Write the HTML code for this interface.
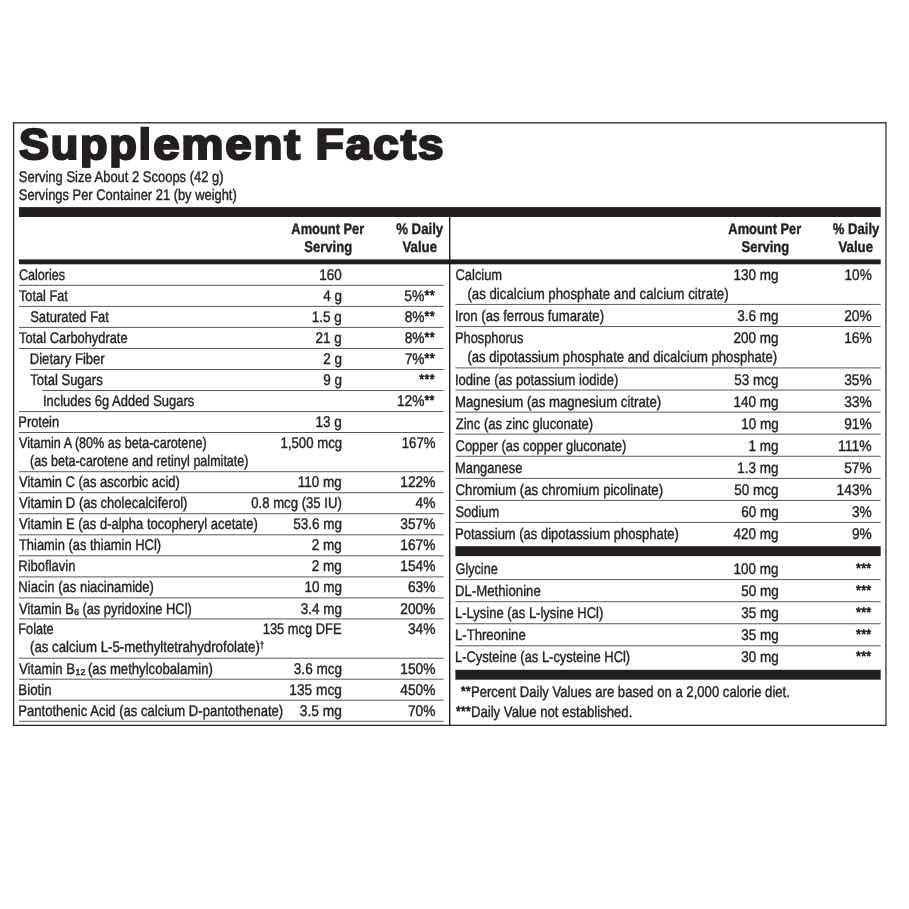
<!DOCTYPE html>
<html lang="en"><head><meta charset="utf-8"><title>Supplement Facts</title>
<style>
html,body{margin:0;padding:0;background:#fff;}
body{width:909px;height:909px;position:relative;overflow:hidden;font-family:"Liberation Sans",sans-serif;color:#231f20;text-rendering:geometricPrecision;}
svg.bg{position:absolute;left:0;top:0;}
.t{position:absolute;white-space:nowrap;line-height:1;transform-origin:0 0;font-size:15.4px;-webkit-text-stroke:0.4px #231f20;}
.b{font-weight:bold;font-size:15.4px;}
.ttl{position:absolute;left:0;top:0;}
.title{display:block;clip-path:inset(-10px -10px -0.6px -10px);font-weight:bold;font-size:43.1px;-webkit-text-stroke:2.2px #231f20;letter-spacing:1.6px;}
.sub{font-size:8.6px;display:inline-block;transform:scaleX(1.18);transform-origin:0 50%;position:relative;top:1.2px;margin-right:0.9px;letter-spacing:0.2px;-webkit-text-stroke:0.45px #231f20;}
.a{font-size:0.92em;letter-spacing:0.35px;position:relative;top:-1.5px;-webkit-text-stroke:0.7px #231f20;}
.sup{font-size:0.6em;position:relative;top:-0.45em;}
</style></head><body>
<svg class="bg" width="909" height="909" viewBox="0 0 909 909">
<rect x="12.95" y="122.2" width="873.65" height="1.3" fill="#231f20"/>
<rect x="12.95" y="724.7" width="873.65" height="1.3" fill="#2e2a2b"/>
<rect x="12.95" y="122.2" width="1.3" height="603.8" fill="#2e2a2b"/>
<rect x="885.3" y="122.2" width="1.3" height="603.8" fill="#3a3637"/>
<rect x="18.9" y="207.1" width="861.8" height="9.9" fill="#231f20"/>
<rect x="18.9" y="259.4" width="861.8" height="4.9" fill="#231f20"/>
<rect x="449.0" y="216" width="1.4" height="509" fill="#231f20"/>
<rect x="455.4" y="546.2" width="425.3" height="9.9" fill="#231f20"/>
<rect x="455.4" y="669.8" width="425.3" height="9.9" fill="#231f20"/>
<rect x="18.9" y="284.80" width="424.7" height="1" fill="#5a5758"/>
<rect x="18.9" y="305.85" width="424.7" height="1" fill="#5a5758"/>
<rect x="18.9" y="326.90" width="424.7" height="1" fill="#5a5758"/>
<rect x="18.9" y="347.95" width="424.7" height="1" fill="#5a5758"/>
<rect x="30.7" y="369.00" width="412.9" height="1" fill="#5a5758"/>
<rect x="42.2" y="390.05" width="401.4" height="1" fill="#5a5758"/>
<rect x="18.9" y="411.10" width="424.7" height="1" fill="#5a5758"/>
<rect x="18.9" y="432.00" width="424.7" height="1" fill="#5a5758"/>
<rect x="18.9" y="471.20" width="424.7" height="1" fill="#5a5758"/>
<rect x="18.9" y="492.20" width="424.7" height="1" fill="#5a5758"/>
<rect x="18.9" y="513.20" width="424.7" height="1" fill="#5a5758"/>
<rect x="18.9" y="534.30" width="424.7" height="1" fill="#5a5758"/>
<rect x="18.9" y="555.30" width="424.7" height="1" fill="#5a5758"/>
<rect x="18.9" y="576.40" width="424.7" height="1" fill="#5a5758"/>
<rect x="18.9" y="597.40" width="424.7" height="1" fill="#5a5758"/>
<rect x="18.9" y="618.40" width="424.7" height="1" fill="#5a5758"/>
<rect x="18.9" y="657.70" width="424.7" height="1" fill="#5a5758"/>
<rect x="18.9" y="678.70" width="424.7" height="1" fill="#5a5758"/>
<rect x="18.9" y="699.70" width="424.7" height="1" fill="#5a5758"/>
<rect x="18.9" y="720.80" width="424.7" height="1" fill="#5a5758"/>
<rect x="455.4" y="303.90" width="425.3" height="1" fill="#5a5758"/>
<rect x="455.4" y="326.05" width="425.3" height="1" fill="#5a5758"/>
<rect x="455.4" y="367.40" width="425.3" height="1" fill="#5a5758"/>
<rect x="455.4" y="389.55" width="425.3" height="1" fill="#5a5758"/>
<rect x="455.4" y="411.60" width="425.3" height="1" fill="#5a5758"/>
<rect x="455.4" y="433.65" width="425.3" height="1" fill="#5a5758"/>
<rect x="455.4" y="455.75" width="425.3" height="1" fill="#5a5758"/>
<rect x="455.4" y="477.90" width="425.3" height="1" fill="#5a5758"/>
<rect x="455.4" y="499.90" width="425.3" height="1" fill="#5a5758"/>
<rect x="455.4" y="521.90" width="425.3" height="1" fill="#5a5758"/>
<rect x="455.4" y="579.10" width="425.3" height="1" fill="#5a5758"/>
<rect x="455.4" y="601.20" width="425.3" height="1" fill="#5a5758"/>
<rect x="455.4" y="623.25" width="425.3" height="1" fill="#5a5758"/>
<rect x="455.4" y="645.30" width="425.3" height="1" fill="#5a5758"/>
</svg>
<div class="ttl">
<span class="t title" style="left:18px;top:124px;transform:translateX(0.88px) scaleX(1.0477)">Suppl</span>
<span class="t title" style="left:153px;top:124px;transform:translateX(0.13px) scaleX(1.1029)">ement</span>
 <span class="t title" style="left:315px;top:124px;transform:translateX(0.49px) scaleX(1.0774)">Facts</span>
</div>
<div class="t" style="left:18px;top:170px;transform:translateX(0.80px) scaleX(0.8429)">Serving Size About 2 Scoops (42 g)</div>
<div class="t" style="left:18px;top:188px;transform:translateX(0.80px) scaleX(0.8380)">Servings Per Container 21 (by weight)</div>
<div class="t b" style="left:291px;top:222px;transform:translateX(0.35px) scaleX(0.8356)">Amount Per</div>
<div class="t b" style="left:304px;top:240px;transform:translateX(0.32px) scaleX(0.8469)">Serving</div>
<div class="t b" style="left:396px;top:222px;transform:translateX(0.17px) scaleX(0.8591)">% Daily</div>
<div class="t b" style="left:402px;top:240px;transform:translateX(0.52px) scaleX(0.8577)">Value</div>
<div class="t b" style="left:728px;top:222px;transform:translateX(0.35px) scaleX(0.8356)">Amount Per</div>
<div class="t b" style="left:741px;top:240px;transform:translateX(0.47px) scaleX(0.8450)">Serving</div>
<div class="t b" style="left:832px;top:222px;transform:translateX(0.82px) scaleX(0.8499)">% Daily</div>
<div class="t b" style="left:838px;top:240px;transform:translateX(0.47px) scaleX(0.8603)">Value</div>
<div class="t" style="left:18px;top:268px;transform:translateX(0.88px) scaleX(0.8201)">Calories</div>
<div class="t" style="left:319px;top:268px;transform:translateX(0.35px) scaleX(0.8765)">160</div>
<div class="t" style="left:18px;top:289px;transform:translateX(0.97px) scaleX(0.8268)">Total Fat</div>
<div class="t" style="left:323px;top:289px;transform:translateX(0.19px) scaleX(0.8765)">4 g</div>
<div class="t" style="left:404px;top:289px;transform:translateX(0.35px) scaleX(0.9023)">5%<span class="a">**</span></div>
<div class="t" style="left:30px;top:310px;transform:translateX(0.20px) scaleX(0.8443)">Saturated Fat</div>
<div class="t" style="left:311px;top:310px;transform:translateX(0.79px) scaleX(0.8765)">1.5 g</div>
<div class="t" style="left:404px;top:310px;transform:translateX(0.70px) scaleX(0.8918)">8%<span class="a">**</span></div>
<div class="t" style="left:18px;top:331px;transform:translateX(0.96px) scaleX(0.8354)">Total Carbohydrate</div>
<div class="t" style="left:315px;top:331px;transform:translateX(0.57px) scaleX(0.8765)">21 g</div>
<div class="t" style="left:404px;top:331px;transform:translateX(0.70px) scaleX(0.8918)">8%<span class="a">**</span></div>
<div class="t" style="left:29px;top:352px;transform:translateX(0.73px) scaleX(0.8515)">Dietary Fiber</div>
<div class="t" style="left:323px;top:352px;transform:translateX(0.19px) scaleX(0.8765)">2 g</div>
<div class="t" style="left:404px;top:352px;transform:translateX(0.70px) scaleX(0.8918)">7%<span class="a">**</span></div>
<div class="t" style="left:30px;top:373px;transform:translateX(0.36px) scaleX(0.8453)">Total Sugars</div>
<div class="t" style="left:323px;top:373px;transform:translateX(0.19px) scaleX(0.8765)">9 g</div>
<div class="t" style="left:419px;top:373px;transform:translateX(0.21px) scaleX(0.8918)"><span class="a">***</span></div>
<div class="t" style="left:42px;top:394px;transform:translateX(0.96px) scaleX(0.8416)">Includes 6g Added Sugars</div>
<div class="t" style="left:396px;top:394px;transform:translateX(0.91px) scaleX(0.8918)">12%<span class="a">**</span></div>
<div class="t" style="left:18px;top:415px;transform:translateX(0.35px) scaleX(0.8361)">Protein</div>
<div class="t" style="left:315px;top:415px;transform:translateX(0.57px) scaleX(0.8765)">13 g</div>
<div class="t" style="left:19px;top:436px;transform:translateX(0.09px) scaleX(0.8188)">Vitamin A (80% as beta-carotene)</div>
<div class="t" style="left:280px;top:436px;transform:translateX(0.56px) scaleX(0.8559)">1,500 mcg</div>
<div class="t" style="left:401px;top:436px;transform:translateX(0.77px) scaleX(0.8546)">167%</div>
<div class="t" style="left:30px;top:454px;transform:translateX(0.06px) scaleX(0.8158)">(as beta-carotene and retinyl palmitate)</div>
<div class="t" style="left:19px;top:475px;transform:translateX(0.08px) scaleX(0.8405)">Vitamin C (as ascorbic acid)</div>
<div class="t" style="left:297px;top:475px;transform:translateX(0.77px) scaleX(0.8765)">110 mg</div>
<div class="t" style="left:400px;top:475px;transform:translateX(0.32px) scaleX(0.8918)">122%</div>
<div class="t" style="left:19px;top:496px;transform:translateX(0.08px) scaleX(0.8458)">Vitamin D (as cholecalciferol)</div>
<div class="t" style="left:251px;top:496px;transform:translateX(0.28px) scaleX(0.8531)">0.8 mcg (35 IU)</div>
<div class="t" style="left:415px;top:496px;transform:translateX(0.60px) scaleX(0.8918)">4%</div>
<div class="t" style="left:19px;top:517px;transform:translateX(0.08px) scaleX(0.8462)">Vitamin E (as d-alpha tocopheryl acetate)</div>
<div class="t" style="left:293px;top:517px;transform:translateX(0.26px) scaleX(0.8765)">53.6 mg</div>
<div class="t" style="left:400px;top:517px;transform:translateX(0.32px) scaleX(0.8918)">357%</div>
<div class="t" style="left:18px;top:538px;transform:translateX(0.96px) scaleX(0.8394)">Thiamin (as thiamin HCl)</div>
<div class="t" style="left:311px;top:538px;transform:translateX(0.79px) scaleX(0.8765)">2 mg</div>
<div class="t" style="left:400px;top:538px;transform:translateX(0.32px) scaleX(0.8918)">167%</div>
<div class="t" style="left:18px;top:559px;transform:translateX(0.34px) scaleX(0.8442)">Riboflavin</div>
<div class="t" style="left:311px;top:559px;transform:translateX(0.79px) scaleX(0.8765)">2 mg</div>
<div class="t" style="left:400px;top:559px;transform:translateX(0.32px) scaleX(0.8918)">154%</div>
<div class="t" style="left:18px;top:580px;transform:translateX(0.34px) scaleX(0.8474)">Niacin (as niacinamide)</div>
<div class="t" style="left:304px;top:580px;transform:translateX(0.52px) scaleX(0.8765)">10 mg</div>
<div class="t" style="left:407px;top:580px;transform:translateX(0.92px) scaleX(0.8918)">63%</div>
<div class="t" style="left:19px;top:602px;transform:translateX(0.08px) scaleX(0.8360)">Vitamin B<span class="sub">6</span> (as pyridoxine HCl)</div>
<div class="t" style="left:300px;top:602px;transform:translateX(0.67px) scaleX(0.8765)">3.4 mg</div>
<div class="t" style="left:400px;top:602px;transform:translateX(0.32px) scaleX(0.8918)">200%</div>
<div class="t" style="left:18px;top:622px;transform:translateX(0.36px) scaleX(0.8237)">Folate</div>
<div class="t" style="left:262px;top:622px;transform:translateX(0.78px) scaleX(0.8375)">135 mcg DFE</div>
<div class="t" style="left:407px;top:622px;transform:translateX(0.92px) scaleX(0.8918)">34%</div>
<div class="t" style="left:30px;top:640px;transform:translateX(0.02px) scaleX(0.8611)">(as calcium L-5-methyltetrahydrofolate)<span class="sup">†</span></div>
<div class="t" style="left:19px;top:662px;transform:translateX(0.08px) scaleX(0.8535)">Vitamin B<span class="sub">12</span> (as methylcobalamin)</div>
<div class="t" style="left:293px;top:662px;transform:translateX(0.84px) scaleX(0.8795)">3.6 mcg</div>
<div class="t" style="left:400px;top:662px;transform:translateX(0.32px) scaleX(0.8918)">150%</div>
<div class="t" style="left:18px;top:683px;transform:translateX(0.32px) scaleX(0.8628)">Biotin</div>
<div class="t" style="left:289px;top:683px;transform:translateX(0.33px) scaleX(0.8907)">135 mcg</div>
<div class="t" style="left:400px;top:683px;transform:translateX(0.32px) scaleX(0.8918)">450%</div>
<div class="t" style="left:18px;top:704px;transform:translateX(0.33px) scaleX(0.8483)">Pantothenic Acid (as calcium D-pantothenate)</div>
<div class="t" style="left:299px;top:704px;transform:translateX(0.83px) scaleX(0.8946)">3.5 mg</div>
<div class="t" style="left:407px;top:704px;transform:translateX(0.92px) scaleX(0.8918)">70%</div>
<div class="t" style="left:455px;top:268px;transform:translateX(0.57px) scaleX(0.8368)">Calcium</div>
<div class="t" style="left:733px;top:268px;transform:translateX(0.54px) scaleX(0.8765)">130 mg</div>
<div class="t" style="left:844px;top:268px;transform:translateX(0.54px) scaleX(0.8812)">10%</div>
<div class="t" style="left:467px;top:287px;transform:translateX(0.42px) scaleX(0.8600)">(as dicalcium phosphate and calcium citrate)</div>
<div class="t" style="left:454px;top:309px;transform:translateX(0.95px) scaleX(0.8544)">Iron (as ferrous fumarate)</div>
<div class="t" style="left:737px;top:309px;transform:translateX(0.32px) scaleX(0.8765)">3.6 mg</div>
<div class="t" style="left:844px;top:309px;transform:translateX(0.22px) scaleX(0.8918)">20%</div>
<div class="t" style="left:455px;top:331px;transform:translateX(0.05px) scaleX(0.8314)">Phosphorus</div>
<div class="t" style="left:733px;top:331px;transform:translateX(0.54px) scaleX(0.8765)">200 mg</div>
<div class="t" style="left:844px;top:331px;transform:translateX(0.22px) scaleX(0.8918)">16%</div>
<div class="t" style="left:467px;top:350px;transform:translateX(0.43px) scaleX(0.8517)">(as dipotassium phosphate and dicalcium phosphate)</div>
<div class="t" style="left:454px;top:373px;transform:translateX(0.95px) scaleX(0.8488)">Iodine (as potassium iodide)</div>
<div class="t" style="left:734px;top:373px;transform:translateX(0.29px) scaleX(0.8765)">53 mcg</div>
<div class="t" style="left:844px;top:373px;transform:translateX(0.22px) scaleX(0.8918)">35%</div>
<div class="t" style="left:455px;top:395px;transform:translateX(0.02px) scaleX(0.8575)">Magnesium (as magnesium citrate)</div>
<div class="t" style="left:733px;top:395px;transform:translateX(0.54px) scaleX(0.8765)">140 mg</div>
<div class="t" style="left:844px;top:395px;transform:translateX(0.22px) scaleX(0.8918)">33%</div>
<div class="t" style="left:455px;top:417px;transform:translateX(0.78px) scaleX(0.8452)">Zinc (as zinc gluconate)</div>
<div class="t" style="left:741px;top:417px;transform:translateX(0.17px) scaleX(0.8765)">10 mg</div>
<div class="t" style="left:844px;top:417px;transform:translateX(0.22px) scaleX(0.8918)">91%</div>
<div class="t" style="left:455px;top:439px;transform:translateX(0.57px) scaleX(0.8385)">Copper (as copper gluconate)</div>
<div class="t" style="left:748px;top:439px;transform:translateX(0.44px) scaleX(0.8765)">1 mg</div>
<div class="t" style="left:838px;top:439px;transform:translateX(0.11px) scaleX(0.9031)">111%</div>
<div class="t" style="left:455px;top:461px;transform:translateX(0.05px) scaleX(0.8374)">Manganese</div>
<div class="t" style="left:737px;top:461px;transform:translateX(0.32px) scaleX(0.8765)">1.3 mg</div>
<div class="t" style="left:844px;top:461px;transform:translateX(0.22px) scaleX(0.8918)">57%</div>
<div class="t" style="left:455px;top:483px;transform:translateX(0.57px) scaleX(0.8542)">Chromium (as chromium picolinate)</div>
<div class="t" style="left:734px;top:483px;transform:translateX(0.29px) scaleX(0.8765)">50 mcg</div>
<div class="t" style="left:836px;top:483px;transform:translateX(0.62px) scaleX(0.8918)">143%</div>
<div class="t" style="left:455px;top:505px;transform:translateX(0.50px) scaleX(0.8361)">Sodium</div>
<div class="t" style="left:741px;top:505px;transform:translateX(0.17px) scaleX(0.8765)">60 mg</div>
<div class="t" style="left:851px;top:505px;transform:translateX(0.90px) scaleX(0.8918)">3%</div>
<div class="t" style="left:455px;top:527px;transform:translateX(0.04px) scaleX(0.8440)">Potassium (as dipotassium phosphate)</div>
<div class="t" style="left:733px;top:527px;transform:translateX(0.54px) scaleX(0.8765)">420 mg</div>
<div class="t" style="left:851px;top:527px;transform:translateX(0.90px) scaleX(0.8918)">9%</div>
<div class="t" style="left:455px;top:562px;transform:translateX(0.58px) scaleX(0.8206)">Glycine</div>
<div class="t" style="left:733px;top:562px;transform:translateX(0.54px) scaleX(0.8765)">100 mg</div>
<div class="t" style="left:855px;top:562px;transform:translateX(0.91px) scaleX(0.8918)"><span class="a">***</span></div>
<div class="t" style="left:455px;top:584px;transform:translateX(0.03px) scaleX(0.8565)">DL-Methionine</div>
<div class="t" style="left:741px;top:584px;transform:translateX(0.17px) scaleX(0.8765)">50 mg</div>
<div class="t" style="left:855px;top:584px;transform:translateX(0.91px) scaleX(0.8918)"><span class="a">***</span></div>
<div class="t" style="left:455px;top:606px;transform:translateX(0.04px) scaleX(0.8438)">L-Lysine (as L-lysine HCl)</div>
<div class="t" style="left:741px;top:606px;transform:translateX(0.17px) scaleX(0.8765)">35 mg</div>
<div class="t" style="left:855px;top:606px;transform:translateX(0.91px) scaleX(0.8918)"><span class="a">***</span></div>
<div class="t" style="left:455px;top:628px;transform:translateX(0.03px) scaleX(0.8511)">L-Threonine</div>
<div class="t" style="left:741px;top:628px;transform:translateX(0.17px) scaleX(0.8765)">35 mg</div>
<div class="t" style="left:855px;top:628px;transform:translateX(0.91px) scaleX(0.8918)"><span class="a">***</span></div>
<div class="t" style="left:455px;top:650px;transform:translateX(0.04px) scaleX(0.8392)">L-Cysteine (as L-cysteine HCl)</div>
<div class="t" style="left:741px;top:650px;transform:translateX(0.17px) scaleX(0.8765)">30 mg</div>
<div class="t" style="left:855px;top:650px;transform:translateX(0.91px) scaleX(0.8918)"><span class="a">***</span></div>
<div class="t" style="left:460px;top:685px;transform:translateX(0.90px) scaleX(0.8519)"><span class="a">**</span>Percent Daily Values are based on a 2,000 calorie diet.</div>
<div class="t" style="left:455px;top:705px;transform:translateX(0.90px) scaleX(0.8550)"><span class="a">***</span>Daily Value not established.</div>
</body></html>
